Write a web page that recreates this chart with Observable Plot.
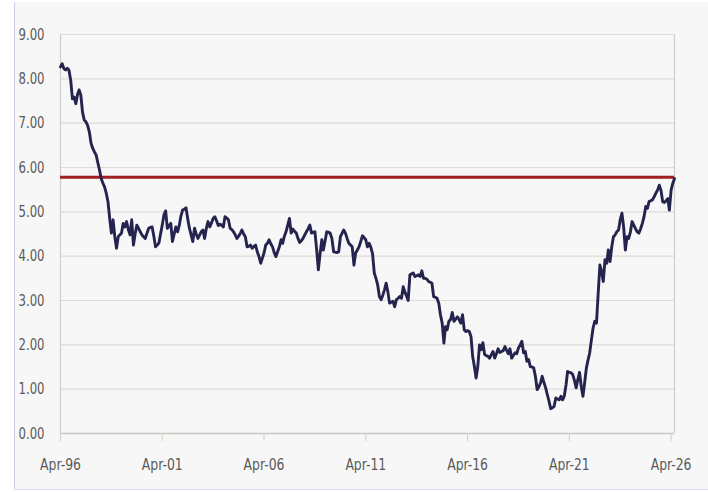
<!DOCTYPE html>
<html><head><meta charset="utf-8">
<script src="https://cdn.jsdelivr.net/npm/d3@7"></script>
<script src="https://cdn.jsdelivr.net/npm/@observablehq/plot@0.6"></script>
<style>
html,body{margin:0;padding:0;background:#ffffff;}
#wrap{position:relative;width:708px;height:492px;overflow:hidden;}
#panel{position:absolute;left:14px;top:2px;width:693px;height:487px;background:#f7f7f7;border-left:1px solid #c9cbe6;border-bottom:1px solid #dcdcec;}
#chart{position:absolute;left:0;top:0;}
</style></head><body>
<div id="wrap"><div id="panel"></div><div id="chart"></div></div>
<script>
// Monthly series, first value = Apr-96
const startMonth = "1996-04";
const endMonth = "2026-06";
const values = [
  8.27, 8.34, 8.23, 8.20, 8.24, 8.19, 7.97, 7.55, 7.59, 7.44, 7.65, 7.75,
  7.63, 7.25, 7.07, 7.03, 6.95, 6.80, 6.55, 6.43, 6.35, 6.28, 6.10, 5.95,
  5.75, 5.65, 5.56, 5.42, 5.23, 4.85, 4.52, 4.82, 4.44, 4.18, 4.44, 4.48,
  4.52, 4.74, 4.66, 4.78, 4.60, 4.48, 4.82, 4.25, 4.50, 4.70, 4.63, 4.55,
  4.48, 4.44, 4.40, 4.52, 4.63, 4.65, 4.66, 4.45, 4.21, 4.25, 4.30, 4.50,
  4.70, 4.93, 5.02, 4.63, 4.68, 4.74, 4.33, 4.50, 4.66, 4.55, 4.70, 4.90,
  5.04, 5.06, 5.09, 4.85, 4.63, 4.48, 4.33, 4.63, 4.50, 4.40, 4.48, 4.55,
  4.59, 4.40, 4.63, 4.78, 4.66, 4.75, 4.85, 4.89, 4.80, 4.69, 4.72, 4.70,
  4.66, 4.89, 4.86, 4.82, 4.63, 4.60, 4.55, 4.48, 4.40, 4.45, 4.52, 4.59,
  4.50, 4.44, 4.21, 4.22, 4.25, 4.18, 4.22, 4.25, 4.10, 3.99, 3.84, 3.95,
  4.07, 4.25, 4.29, 4.37, 4.28, 4.21, 4.08, 3.99, 4.10, 4.21, 4.37, 4.29,
  4.45, 4.55, 4.70, 4.85, 4.52, 4.61, 4.56, 4.52, 4.40, 4.31, 4.35, 4.40,
  4.48, 4.55, 4.62, 4.70, 4.52, 4.54, 4.55, 4.14, 3.69, 4.05, 4.37, 4.14,
  4.35, 4.55, 4.54, 4.52, 4.40, 4.10, 4.09, 4.08, 4.10, 4.44, 4.52, 4.59,
  4.52, 4.40, 4.29, 4.25, 4.21, 3.80, 4.07, 4.14, 4.21, 4.33, 4.46, 4.42,
  4.37, 4.21, 4.29, 4.20, 4.05, 3.62, 3.50, 3.35, 3.09, 3.02, 3.12, 3.24,
  3.39, 3.20, 2.94, 2.96, 2.98, 2.86, 3.02, 3.05, 3.09, 3.05, 3.31, 3.20,
  3.10, 3.00, 3.58, 3.60, 3.62, 3.54, 3.56, 3.58, 3.54, 3.67, 3.50, 3.50,
  3.48, 3.43, 3.41, 3.39, 3.09, 3.07, 3.05, 2.94, 2.68, 2.49, 2.04, 2.41,
  2.34, 2.53, 2.57, 2.73, 2.53, 2.58, 2.63, 2.57, 2.49, 2.68, 2.34, 2.30,
  2.32, 2.30, 2.19, 1.74, 1.51, 1.25, 1.51, 2.00, 1.89, 2.05, 1.78, 1.76,
  1.74, 1.70, 1.78, 1.85, 1.70, 1.80, 1.91, 1.83, 1.85, 1.87, 1.96, 1.88,
  1.80, 1.91, 1.70, 1.76, 1.82, 1.80, 1.93, 2.00, 2.08, 1.82, 1.85, 1.63,
  1.67, 1.51, 1.50, 1.48, 1.29, 0.99, 1.05, 1.14, 1.29, 1.15, 1.03, 0.88,
  0.73, 0.56, 0.58, 0.61, 0.80, 0.78, 0.76, 0.84, 0.76, 0.85, 1.10, 1.40,
  1.38, 1.37, 1.33, 1.20, 1.03, 1.22, 1.38, 1.06, 0.84, 1.15, 1.48, 1.65,
  1.82, 2.10, 2.38, 2.53, 2.49, 3.17, 3.80, 3.65, 3.43, 3.92, 3.84, 4.14,
  3.88, 4.20, 4.44, 4.48, 4.55, 4.59, 4.82, 4.97, 4.66, 4.14, 4.44, 4.40,
  4.55, 4.78, 4.70, 4.62, 4.55, 4.52, 4.62, 4.74, 4.89, 5.12, 5.08, 5.23,
  5.25, 5.27, 5.34, 5.42, 5.49, 5.60, 5.49, 5.23, 5.21, 5.25, 5.30, 5.04,
  5.49, 5.64, 5.75
];
const threshold = 5.78;
const yTicks = [0, 1, 2, 3, 4, 5, 6, 7, 8, 9];
const xTickMonths = ["1996-04", "2001-04", "2006-04", "2011-04", "2016-04", "2021-04", "2026-04"];
const xTickLabels = ["Apr-96", "Apr-01", "Apr-06", "Apr-11", "Apr-16", "Apr-21", "Apr-26"];

const parse = d3.utcParse("%Y-%m");
const t0 = parse(startMonth);
const t1 = parse(endMonth);
const data = values.map((v, i) => ({date: d3.utcMonth.offset(t0, i), value: v}));
const xTickDates = xTickMonths.map(parse);
const labelOf = new Map(xTickDates.map((d, i) => [+d, xTickLabels[i]]));

const gridColor = "#dfdbd7";
const frameColor = "#d3cec9";
const textColor = "#595959";

const chart = Plot.plot({
  width: 708,
  height: 492,
  marginLeft: 60,
  marginRight: 34,
  marginTop: 34,
  marginBottom: 59,
  style: {
    background: "transparent",
    fontFamily: "'DejaVu Sans Condensed','DejaVu Sans',sans-serif",
    fontSize: "16px",
    color: textColor
  },
  x: {type: "utc", domain: [t0, t1], label: null},
  y: {domain: [0, 9], label: null},
  marks: [
    Plot.gridY(yTicks, {stroke: gridColor, strokeOpacity: 1, strokeWidth: 1.2}),
    Plot.ruleX([t0, t1], {stroke: frameColor, strokeWidth: 1.2}),
    Plot.ruleY([0], {stroke: "#cbc4bf", strokeWidth: 1.6}),
    Plot.axisY(yTicks, {tickSize: 0, tickPadding: 16, tickFormat: d => d.toFixed(2), fill: textColor, label: null}),
    Plot.axisX(xTickDates, {tickSize: 8, tickPadding: 17, tickFormat: d => labelOf.get(+d), stroke: frameColor, fill: textColor, label: null}),
    Plot.ruleY([threshold], {stroke: "#a11f1f", strokeWidth: 3.2}),
    Plot.lineY(data, {x: "date", y: "value", stroke: "#25244e", strokeWidth: 2.9, strokeLinejoin: "round"})
  ]
});
document.getElementById("chart").appendChild(chart);

// Narrow the tick labels horizontally to match the condensed face of the original
function condense(selector, k) {
  chart.querySelectorAll(selector).forEach(t => {
    const w = t.getComputedTextLength();
    if (w > 0) {
      t.setAttribute("textLength", (w * k).toFixed(1));
      t.setAttribute("lengthAdjust", "spacingAndGlyphs");
    }
  });
}
condense('g[aria-label="y-axis tick label"] text', 0.81);
condense('g[aria-label="x-axis tick label"] text', 0.86);
</script>
</body></html>
